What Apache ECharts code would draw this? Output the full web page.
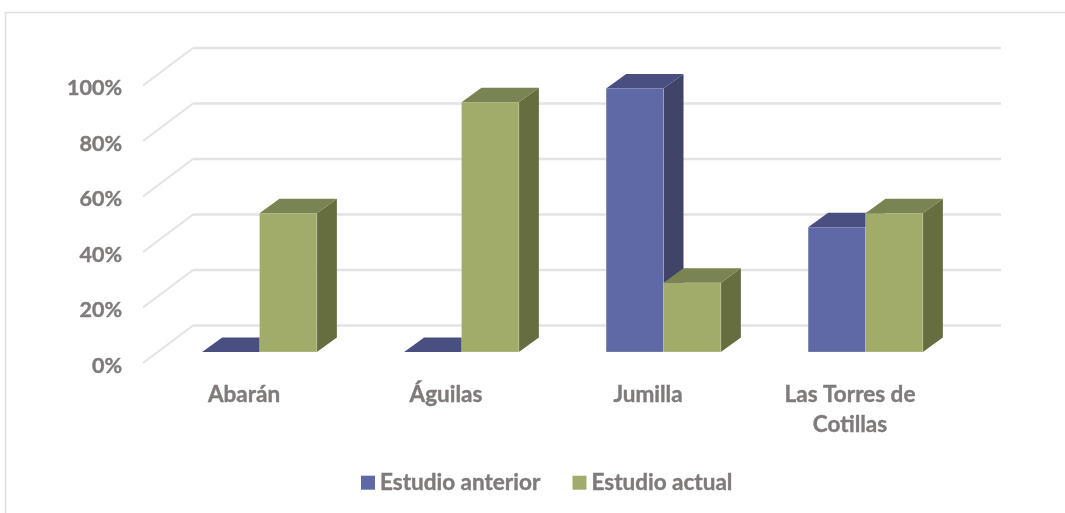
<!DOCTYPE html>
<html>
<head>
<meta charset="utf-8">
<style>html,body{margin:0;padding:0;background:#fff}#c{width:1065px;height:513px}</style>
<script src="https://cdn.jsdelivr.net/npm/echarts@6/dist/echarts.min.js"></script>
</head>
<body>
<div id="c"></div>
<script>
const categories = ['Abarán', 'Águilas', 'Jumilla', 'Las Torres de\nCotillas'];
const estudioAnterior = [0, 0, 95, 45];
const estudioActual = [50, 90, 25, 50];
const yTicks = [0, 20, 40, 60, 80, 100];

const TEXT = '#7f7b7b';
const FONT = 'Lato';
const BLUE = { front: '#5f69a5', top: '#494f80', side: '#3f4468' };
const GREEN = { front: '#a1ab6a', top: '#7a8352', side: '#666e40' };

// 3D projection: the axes sit on the label plane, marks are projected from it
const FRONT_DY = -3;
const WALL = { dx: 50, dy: -37.5 };
const BAR_OFFSET = { dx: 15.5, dy: -14 };
const BAR_DEPTH = { dx: 20, dy: -14.5 };
const BAR_FRACTION = 0.284;

function wallItem(params, api) {
  const y = api.coord([0, api.value(1)])[1] + FRONT_DY;
  const cs = params.coordSys;
  const x0 = cs.x, x1 = cs.x + WALL.dx, x2 = cs.x + cs.width + WALL.dx, yb = y + WALL.dy;
  return { type: 'group', children: [
    { type: 'line', shape: { x1: x0, y1: y, x2: x1, y2: yb }, style: { stroke: '#e3e3e3', lineWidth: 2 } },
    { type: 'line', shape: { x1: x1, y1: yb, x2: x2, y2: yb }, style: { stroke: '#e3e3e3', lineWidth: 2.5 } }
  ] };
}

function barRenderer(side, colors) {
  return function (params, api) {
    const i = api.value(0), v = api.value(1);
    const p0 = api.coord([i, 0]), p1 = api.coord([i, v]);
    const w = api.size([1, 0])[0] * BAR_FRACTION;
    const xc = p0[0] + BAR_OFFSET.dx;
    const xl = side < 0 ? xc - w : xc, xr = xl + w;
    const yb = p0[1] + BAR_OFFSET.dy, yt = p1[1] + BAR_OFFSET.dy;
    const dx = BAR_DEPTH.dx, dy = BAR_DEPTH.dy;
    const children = [];
    if (v > 0) {
      children.push({ type: 'polygon', shape: { points: [[xr, yb], [xr + dx, yb + dy], [xr + dx, yt + dy], [xr, yt]] },
        style: { fill: colors.side } });
      children.push({ type: 'rect', shape: { x: xl, y: yt, width: w, height: yb - yt },
        style: { fill: colors.front, stroke: 'rgba(255,255,255,0.22)', lineWidth: 1 } });
    }
    children.push({ type: 'polygon', shape: { points: [[xl, yt], [xl + dx, yt + dy], [xr + dx, yt + dy], [xr, yt]] },
      style: { fill: colors.top } });
    return { type: 'group', children };
  };
}

const chart = echarts.init(document.getElementById('c'), null, { renderer: 'canvas' });
chart.setOption({
  animation: false,
  backgroundColor: '#fff',
  textStyle: { fontFamily: FONT },
  graphic: [{ type: 'rect', silent: true, z: -10,
    shape: { x: 5.5, y: 12.5, width: 1100, height: 600 },
    style: { fill: 'none', stroke: '#dfdfdf', lineWidth: 1.5 } }],
  grid: { left: 143, top: 88.5, width: 808, height: 277.5, containLabel: false },
  legend: {
    data: ['Estudio anterior', 'Estudio actual'],
    left: 356, top: 466, itemWidth: 14, itemHeight: 14, itemGap: 32, icon: 'rect',
    textStyle: { color: TEXT, fontFamily: FONT, fontWeight: 700, fontSize: 22.5,
      textBorderColor: TEXT, textBorderWidth: 0.4 }
  },
  xAxis: {
    type: 'category', data: categories,
    axisLine: { show: false }, axisTick: { show: false }, splitLine: { show: false },
    axisLabel: { color: TEXT, fontFamily: FONT, fontWeight: 700, fontSize: 22.5, lineHeight: 30, margin: 14, interval: 0,
      textBorderColor: TEXT, textBorderWidth: 0.4 }
  },
  yAxis: {
    type: 'value', min: 0, max: 100, interval: 20,
    axisLine: { show: false }, axisTick: { show: false }, splitLine: { show: false },
    axisLabel: { color: TEXT, fontFamily: FONT, fontWeight: 700, fontSize: 21.5, margin: 21,
      formatter: '{value}%', textBorderColor: TEXT, textBorderWidth: 0.4 }
  },
  series: [
    { type: 'custom', name: 'walls', z: 1, silent: true, renderItem: wallItem,
      encode: { x: 0, y: 1 }, data: yTicks.map(t => [0, t]) },
    { type: 'custom', name: 'Estudio anterior', z: 2, itemStyle: { color: BLUE.front },
      renderItem: barRenderer(-1, BLUE), encode: { x: 0, y: 1 },
      data: estudioAnterior.map((v, i) => [i, v]) },
    { type: 'custom', name: 'Estudio actual', z: 3, itemStyle: { color: GREEN.front },
      renderItem: barRenderer(1, GREEN), encode: { x: 0, y: 1 },
      data: estudioActual.map((v, i) => [i, v]) }
  ]
});
</script>
</body>
</html>
